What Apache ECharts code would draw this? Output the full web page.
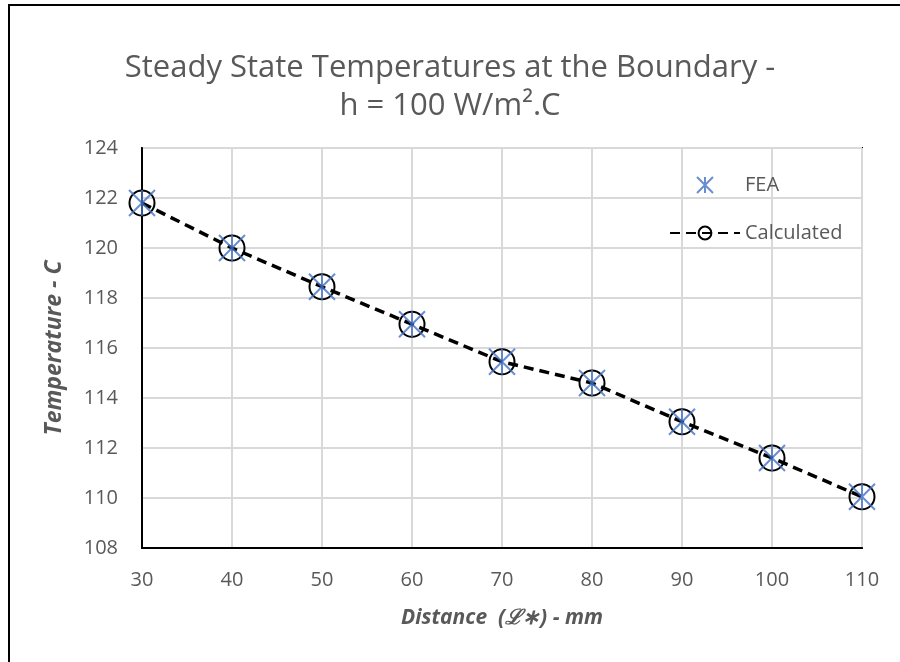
<!DOCTYPE html>
<html><head><meta charset="utf-8">
<script src="https://cdn.jsdelivr.net/npm/echarts@6/dist/echarts.min.js"></script>
<style>html,body{margin:0;padding:0;background:#fff}#c{width:900px;height:662px}</style>
</head><body><div id="c"></div>
<script>
const distances = [30, 40, 50, 60, 70, 80, 90, 100, 110];
const feaTemps = [121.8, 120.0, 118.45, 116.95, 115.45, 114.6, 113.05, 111.6, 110.05];
const calcTemps = [121.8, 120.0, 118.45, 116.95, 115.45, 114.6, 113.05, 111.6, 110.05];
const titleLines = ['Steady State Temperatures at the Boundary -', 'h = 100 W/m\u00B2.C'];
const xName = 'Distance  (\u2112\u2217) - mm';
const yName = 'Temperature - C';

const chart = echarts.init(document.getElementById('c'), null, {renderer: 'canvas'});
const font = '"Open Sans", "Liberation Sans", sans-serif';
const star = 'path://M0,0L10,10M10,0L0,10M5,0L5,10';
chart.setOption({
  animation: false,
  backgroundColor: '#fff',
  graphic: [{
    type: 'rect', shape: {x: 9, y: 5, width: 1000, height: 1000},
    style: {fill: 'none', stroke: '#000', lineWidth: 2}, z: -10
  }],
  title: {
    text: titleLines.join('\n'),
    left: 'center', top: 44,
    textStyle: {fontFamily: font, fontWeight: 'normal', fontSize: 31, color: '#595959', lineHeight: 38}
  },
  legend: {
    orient: 'vertical', left: 664, top: 170, itemGap: 28,
    itemWidth: 70, itemHeight: 16,
    textStyle: {fontFamily: font, fontSize: 20, color: '#595959'},
    data: [{name: 'FEA'}, {name: 'Calculated'}]
  },
  grid: {left: 142, right: 38, top: 148, bottom: 114, show: true, borderColor: '#000', borderWidth: 2, backgroundColor: 'transparent'},
  xAxis: {
    type: 'value', min: 30, max: 110, interval: 10,
    name: xName, nameLocation: 'middle', nameGap: 60,
    nameTextStyle: {fontFamily: font, fontSize: 21, fontWeight: 'bold', fontStyle: 'italic', color: '#595959'},
    axisLine: {lineStyle: {color: '#000', width: 2}},
    axisTick: {show: false},
    axisLabel: {fontFamily: font, fontSize: 20, color: '#595959', margin: 22},
    splitLine: {show: true, lineStyle: {color: '#D9D9D9', width: 2}}
  },
  yAxis: {
    type: 'value', min: 108, max: 124, interval: 2,
    name: yName, nameLocation: 'middle', nameGap: 76,
    nameTextStyle: {fontFamily: font, fontSize: 23, fontWeight: 'bold', fontStyle: 'italic', color: '#595959'},
    axisLine: {show: true, lineStyle: {color: '#000', width: 2}},
    axisTick: {show: false},
    axisLabel: {fontFamily: font, fontSize: 20, color: '#595959', margin: 24},
    splitLine: {show: true, lineStyle: {color: '#D9D9D9', width: 2}}
  },
  series: [
    {
      name: 'Calculated', type: 'line',
      data: distances.map((d, i) => [d, calcTemps[i]]),
      symbol: 'circle', symbolSize: 25, showSymbol: true,
      lineStyle: {color: '#000', width: 3.5, type: [10, 6]},
      itemStyle: {color: 'rgba(0,0,0,0)', borderColor: '#000', borderWidth: 2},
      z: 2
    },
    {
      name: 'FEA', type: 'scatter',
      data: distances.map((d, i) => [d, feaTemps[i]]),
      symbol: star, symbolSize: 26,
      itemStyle: {color: 'rgba(0,0,0,0)', borderColor: '#4472C4', borderWidth: 2},
      z: 3
    }
  ]
});
</script></body></html>
